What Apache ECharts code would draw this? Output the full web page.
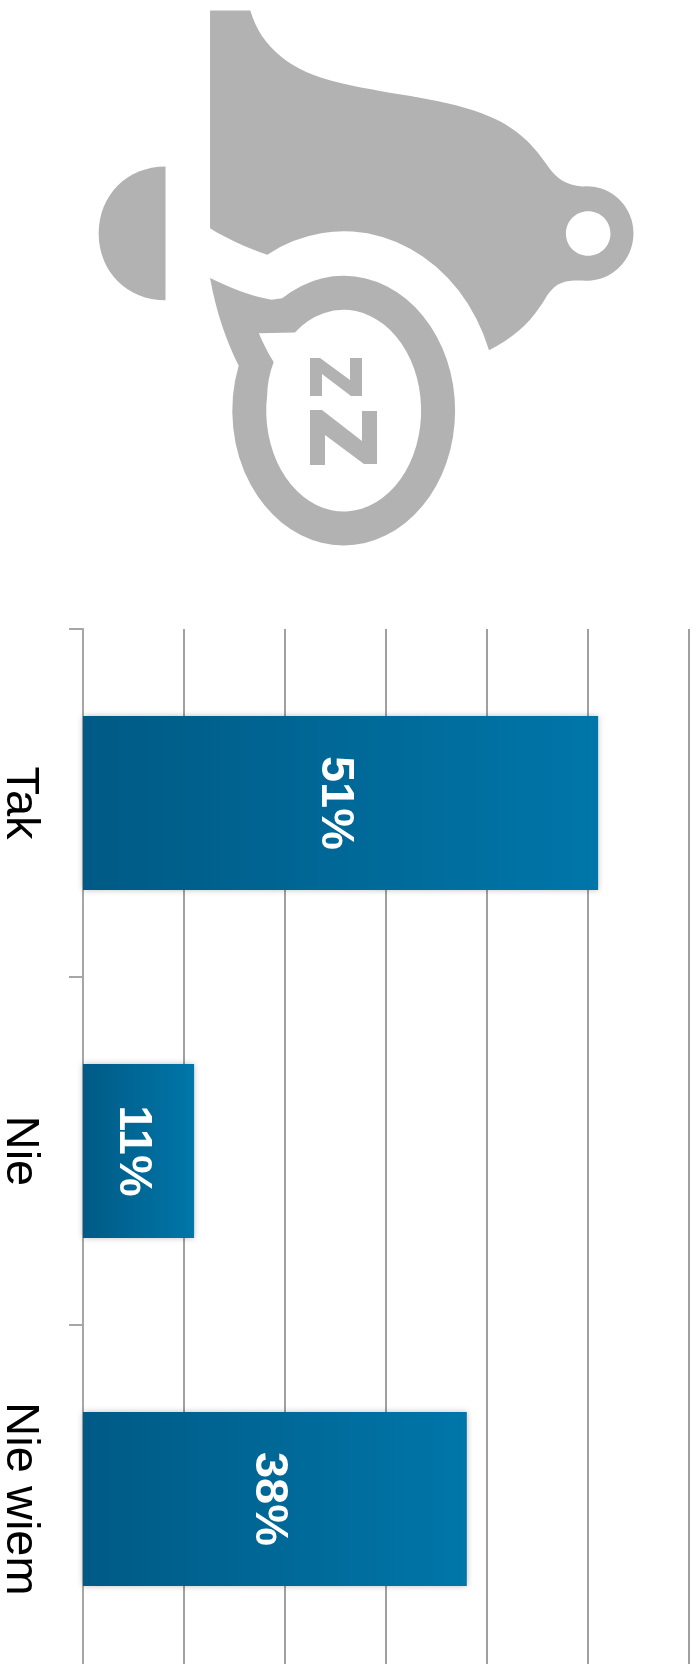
<!DOCTYPE html>
<html>
<head>
<meta charset="utf-8">
<style>
  html, body { margin: 0; padding: 0; background: #fff; }
  #chart { width: 698px; height: 1664px; }
</style>
<script src="https://cdn.jsdelivr.net/npm/echarts@6/dist/echarts.min.js"></script>
</head>
<body>
<div id="chart"></div>
<script>
const categories = ['Tak', 'Nie', 'Nie wiem']
const values = [51, 11, 38]
const axisMax = 60
const axisStep = 10

// sleeping bell icon, in 658px wide picture units
const ICON_BELL = 'M198 10 L236 10 C246 45 275 68 320 78 C375 91 420 92 462 110 C488 121 503 137 516 156 C524 168 534 175 549 175.7 A44 44.5 0 1 1 549 264.3 C537 264 528 265 521 272 C515 278 513 284 509 289 C498 306 481 320 461 330 A145 167 0 0 0 252 240 C232 233 214 225 198 215 Z M554.5 199 C543 199 533.5 208 533.5 220 C533.5 232 543 241 554.5 241 C566 241 575.5 232 575.5 220 C575.5 208 566 199 554.5 199 Z'
const ICON_CLAPPER = 'M156 157 L156 283 C120 283 93 256 93 220 C93 184 120 157 156 157 Z'
// the hole has to run against the outline, the fill is nonzero
const ICON_BUBBLE = 'M198 262 C215 270 235 279 256 282.5 L266 281.1 A105 127 0 1 1 225 344.7 C213 320 204 295 198 262 Z M244 314 C248 323 252 332 258 341 C254 352 252 362 251.9 372 A73 95 0 1 0 278 313.2 Z'
// the two z letters, in full size pixels
const ICON_Z_SMALL = 'M310 358 L320 358 L350 380 L350 358 L362 358 L362 396 L351 396 L322 374 L322 396 L310 396 Z'
const ICON_Z_BIG = 'M310 410 L322 410 L362 441 L362 411 L377 411 L377 464 L364 464 L325 435 L325 465 L310 465 Z'

const ICON_COLOR = '#b2b2b2'

const registerIconPart = (name, pathData) => {
  echarts.graphic.registerShape(name, echarts.graphic.extendPath(pathData, {}))
}
registerIconPart('iconBell', ICON_BELL)
registerIconPart('iconClapper', ICON_CLAPPER)
registerIconPart('iconBubble', ICON_BUBBLE)
registerIconPart('iconZSmall', ICON_Z_SMALL)
registerIconPart('iconZBig', ICON_Z_BIG)

const chart = echarts.init(document.getElementById('chart'), null, { renderer: 'canvas' })

chart.setOption({
  animation: false,
  backgroundColor: '#fff',
  grid: { left: 83, top: 629, width: 606, height: 1044, containLabel: false, outerBoundsMode: 'none' },
  xAxis: {
    type: 'value',
    min: 0,
    max: axisMax,
    interval: axisStep,
    axisLine: { show: false },
    axisTick: { show: false },
    axisLabel: { show: false },
    splitLine: { show: true, lineStyle: { color: '#a0a0a0', width: 2 } }
  },
  yAxis: {
    type: 'category',
    inverse: true,
    data: categories,
    axisLine: { show: true, lineStyle: { color: '#a6a6a6', width: 2 } },
    axisTick: { show: true, length: 14, alignWithLabel: false, lineStyle: { color: '#a6a6a6', width: 2 } },
    axisLabel: {
      rotate: -90,
      margin: 40,
      fontFamily: 'Liberation Sans',
      fontSize: 47,
      color: '#000'
    }
  },
  series: [{
    type: 'bar',
    data: values,
    barWidth: '50%',
    itemStyle: {
      color: new echarts.graphic.LinearGradient(0, 0, 1, 0, [
        { offset: 0, color: '#005a85' },
        { offset: 1, color: '#0076a9' }
      ]),
      shadowColor: 'rgba(0,0,0,0.25)',
      shadowBlur: 6,
      shadowOffsetY: 0
    },
    label: {
      show: true,
      position: 'inside',
      offset: [0, 6],
      rotate: -90,
      formatter: '{c}%',
      fontFamily: 'Liberation Sans',
      fontSize: 47,
      fontWeight: 'bold',
      color: '#fff'
    }
  }],
  graphic: [{
    type: 'group',
    scaleX: 698 / 658,
    scaleY: 1664 / 1568,
    silent: true,
    children: ['iconBell', 'iconClapper', 'iconBubble'].map(type => ({
      type,
      style: { fill: ICON_COLOR }
    }))
  }, {
    type: 'group',
    silent: true,
    children: ['iconZSmall', 'iconZBig'].map(type => ({
      type,
      style: { fill: ICON_COLOR }
    }))
  }]
})
</script>
</body>
</html>
